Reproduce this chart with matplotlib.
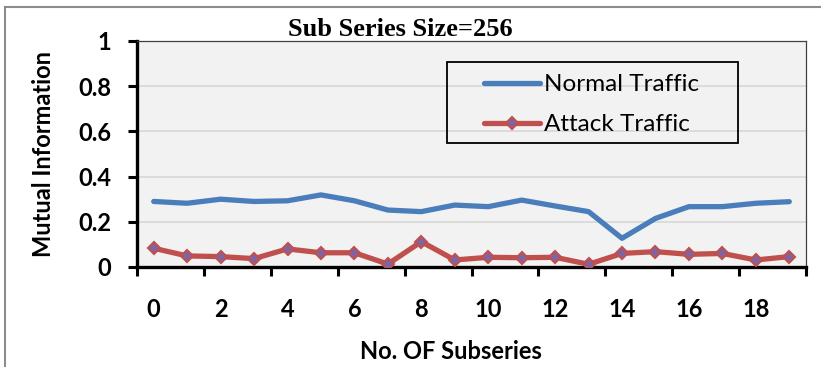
import matplotlib
matplotlib.use("Agg")
import matplotlib.pyplot as plt
from matplotlib.lines import Line2D
from matplotlib.patches import Rectangle

subseries = list(range(20))
normal = [0.29, 0.282, 0.30, 0.29, 0.293, 0.319, 0.293, 0.252, 0.245, 0.274,
          0.267, 0.296, 0.27, 0.245, 0.127, 0.215, 0.267, 0.267, 0.282, 0.289]
attack = [0.083, 0.049, 0.046, 0.037, 0.08, 0.063, 0.063, 0.013, 0.112, 0.031,
          0.043, 0.041, 0.043, 0.012, 0.06, 0.068, 0.056, 0.06, 0.031, 0.046]
xtick_labels = ["0", "2", "4", "6", "8", "10", "12", "14", "16", "18"]
ytick_labels = ["0", "0.2", "0.4", "0.6", "0.8", "1"]

plt.rcParams['font.family'] = ['Lato', 'DejaVu Sans']

fig = plt.figure(figsize=(8.21, 3.67), dpi=100)
ax = fig.add_axes([137/821, 1 - 267/367, 669/821, 226/367])
ax.set_facecolor('#f2f2f2')

ax.plot(subseries, normal, color='#4a7ebb', lw=3.8, label='Normal Traffic',
        solid_capstyle='round', zorder=3)
ax.plot(subseries, attack, color='#c0504d', lw=3.8, marker='D', markersize=6.5,
        markerfacecolor='#8064a2', markeredgecolor='#c0504d', markeredgewidth=1.5,
        label='Attack Traffic', solid_capstyle='round', zorder=3)

ax.set_xlim(-0.5, 19.5)
ax.set_ylim(0, 1)

# y axis
yt = [0, 0.2, 0.4, 0.6, 0.8, 1.0]
ax.set_yticks(yt)
ax.set_yticklabels(ytick_labels)
for y in yt[1:-1]:
    ax.axhline(y, color='#d9d9d9', lw=1.3, zorder=1)

# x axis: tick marks between categories, labels on categories
ax.set_xticks([i - 0.5 for i in range(0, 21, 2)])
ax.set_xticklabels([])
ax.set_xticks(subseries[::2], minor=True)
ax.set_xticklabels(xtick_labels, minor=True)
ax.tick_params(axis='x', which='minor', length=0, pad=22)
ax.tick_params(axis='both', which='major', direction='out', length=6.5, width=2.2,
               color='black')
ax.tick_params(axis='y', pad=12)
for lab in ax.get_xticklabels(minor=True) + ax.get_yticklabels():
    lab.set_fontweight('bold')
    lab.set_fontsize(17)

for side in ['left', 'bottom']:
    ax.spines[side].set_linewidth(2.4)
    ax.spines[side].set_color('black')
for side in ['top', 'right']:
    ax.spines[side].set_linewidth(0.9)
    ax.spines[side].set_color('#404040')

ax.set_ylabel('Mutual Information', fontsize=17, fontweight='bold')
ax.yaxis.set_label_coords(-0.1405, 0.5)
ax.set_xlabel('No. OF Subseries', fontsize=17, fontweight='bold')
ax.xaxis.set_label_coords(0.469, -0.376)
ax.xaxis.label.set_va('center')
ax.yaxis.label.set_va('center')

fig.text(400/821, 1 - 36/367, 'Sub Series Size=256', ha='center', va='baseline',
         fontsize=19, fontweight='bold', family='Liberation Serif')

# legend with a separate box
ax.add_patch(Rectangle((310/669, 124/226), 291/669, 81/226, transform=ax.transAxes,
                       fill=False, edgecolor='black', lw=1.3, zorder=4))
leg = ax.legend(loc='upper left', bbox_to_anchor=(0.5187, 0.854), frameon=False,
                borderpad=0, borderaxespad=0, handlelength=2.3, handletextpad=0.16,
                labelspacing=0.8, fontsize=17.5, numpoints=1)

# outer chart border
fig.add_artist(Line2D([4.5/821, 4.5/821], [0, 1 - 7/367], color='#8c8c8c', lw=1.5))
fig.add_artist(Line2D([4.5/821, 1], [1 - 7/367, 1 - 7/367], color='#8c8c8c', lw=1.5))

fig.savefig('out.png', dpi=100)
